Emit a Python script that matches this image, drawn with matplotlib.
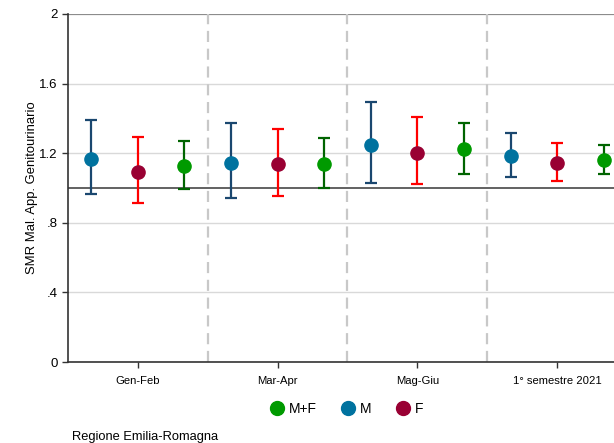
import numpy as np
import matplotlib.pyplot as plt
from matplotlib.lines import Line2D

plt.rcParams['font.family'] = ['Liberation Sans', 'DejaVu Sans']

periods = ['Gen-Feb', 'Mar-Apr', 'Mag-Giu', '1° semestre 2021']

# SMR with 95% confidence limits, by sex
smr_m = [1.167, 1.142, 1.245, 1.182]
low_m = [0.966, 0.943, 1.030, 1.061]
upp_m = [1.391, 1.371, 1.492, 1.314]

smr_f = [1.092, 1.138, 1.203, 1.144]
low_f = [0.916, 0.952, 1.021, 1.038]
upp_f = [1.295, 1.341, 1.408, 1.260]

smr_mf = [1.126, 1.138, 1.222, 1.163]
low_mf = [0.992, 1.002, 1.080, 1.082]
upp_mf = [1.272, 1.287, 1.375, 1.245]

y_ticks = [0, 0.4, 0.8, 1.2, 1.6, 2]
y_labels = ['0', '.4', '.8', '1.2', '1.6', '2']

fig = plt.figure(figsize=(6.14, 4.43), dpi=100)
ax = fig.add_axes([0.1107, 0.1828, 0.9104, 0.7856])

x = np.arange(1, len(periods) + 1)
series = [
    (smr_m, low_m, upp_m, -1/3, '#00729f', '#1a476f'),
    (smr_f, low_f, upp_f, 0.0, '#990033', '#ff0000'),
    (smr_mf, low_mf, upp_mf, 1/3, '#009a00', '#006400'),
]

# grid, separators and reference line
for yv in y_ticks[:-1]:
    ax.axhline(yv, color='#d9d9d9', lw=1.0, zorder=0)
ax.axhline(2, color='#8c8c8c', lw=1.6, zorder=1)
for xs in [1.5, 2.5, 3.5]:
    ax.axvline(xs, color='#c8c8c8', lw=1.6, ls=(0, (5, 3)), zorder=1)
ax.axhline(1, color='#555555', lw=1.3, zorder=1)

for vals, lo, hi, off, mcol, ecol in series:
    vals = np.array(vals)
    err = np.vstack([vals - np.array(lo), np.array(hi) - vals])
    ax.errorbar(x + off, vals, yerr=err, fmt='none', ecolor=ecol,
                elinewidth=1.6, capsize=4, capthick=1.6, zorder=3)
    ax.plot(x + off, vals, 'o', color=mcol, markersize=9.5, zorder=4)

ax.set_xlim(0.5, 4.5)
ax.set_ylim(0, 2)
ax.set_xticks(x)
ax.set_xticklabels(periods, fontsize=8.1)
ax.set_yticks(y_ticks)
ax.set_yticklabels(y_labels, fontsize=9.5)
ax.set_ylabel('SMR Mal. App. Genitourinario', fontsize=9.4, labelpad=1)

for s in ['top', 'right']:
    ax.spines[s].set_visible(False)
for s in ['left', 'bottom']:
    ax.spines[s].set_color('#333333')
    ax.spines[s].set_linewidth(1.2)
ax.tick_params(axis='both', direction='out', length=4, width=1.0, color='#333333')
ax.tick_params(axis='x', pad=6)

handles = [
    Line2D([], [], ls='none', marker='o', color='#009a00', markersize=10),
    Line2D([], [], ls='none', marker='o', color='#00729f', markersize=10),
    Line2D([], [], ls='none', marker='o', color='#990033', markersize=10),
]
fig.legend(handles, ['M+F', 'M', 'F'], loc='center', ncol=3,
           bbox_to_anchor=(0.562, 0.077), frameon=False, fontsize=10,
           handletextpad=0.1, columnspacing=1.5, handlelength=1.5)

fig.text(0.117, 0.0, 'Regione Emilia-Romagna', fontsize=9.3, ha='left', va='bottom')

fig.savefig('out.png', dpi=100)
